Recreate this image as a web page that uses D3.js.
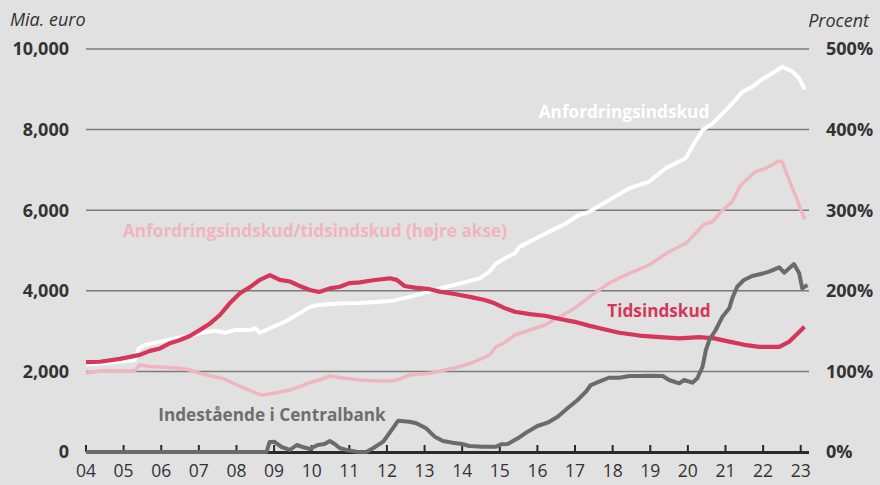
<!DOCTYPE html>
<html>
<head>
<meta charset="utf-8">
<script src="https://cdn.jsdelivr.net/npm/d3@7"></script>
<style>
  html, body { margin: 0; padding: 0; background: #e1e1e1; }
  svg { display: block; }
  text { font-family: "Open Sans", sans-serif; }
</style>
</head>
<body>
<svg id="chart" width="880" height="485"></svg>
<script>
// ---------- DATA ----------
const yearTicks = [2004,2005,2006,2007,2008,2009,2010,2011,2012,2013,2014,2015,2016,2017,2018,2019,2020,2021,2022,2023];
const yearLabels = ["04","05","06","07","08","09","10","11","12","13","14","15","16","17","18","19","20","21","22","23"];
const leftTicks = [0, 2000, 4000, 6000, 8000, 10000];
const leftTickLabels = ["0","2,000","4,000","6,000","8,000","10,000"];
const rightTicks = [0, 100, 200, 300, 400, 500];
const rightTickLabels = ["0%","100%","200%","300%","400%","500%"];

// Tidsindskud (mia. euro)
const tidsYears = [2004.0,2004.37,2004.9,2005.17,2005.43,2005.7,2005.97,2006.23,2006.5,2006.76,2007.03,2007.3,2007.56,2007.82,2008.09,2008.36,2008.62,2008.89,2009.15,2009.42,2009.68,2009.95,2010.2,2010.48,2010.75,2011.0,2011.28,2011.54,2011.8,2012.07,2012.26,2012.47,2012.74,2013.14,2013.4,2013.8,2014.2,2014.6,2014.86,2015.13,2015.4,2015.8,2016.2,2016.6,2016.99,2017.39,2017.8,2018.18,2018.71,2019.25,2019.78,2020.3,2020.7,2021.1,2021.5,2021.9,2022.43,2022.7,2023.1];
const tidsValues = [2230,2240,2310,2360,2410,2510,2570,2700,2780,2880,3030,3190,3400,3690,3940,4090,4270,4390,4270,4230,4120,4020,3970,4060,4100,4190,4210,4250,4280,4310,4270,4120,4080,4040,3980,3920,3850,3770,3690,3570,3480,3420,3380,3300,3230,3130,3040,2960,2890,2850,2820,2850,2820,2740,2660,2610,2610,2740,3110];

// Anfordringsindskud (mia. euro)
const anfYears = [2004.0,2004.5,2005.0,2005.3,2005.4,2005.55,2005.97,2006.36,2006.76,2007.03,2007.42,2007.7,2007.96,2008.36,2008.5,2008.62,2008.89,2009.28,2009.68,2009.95,2010.2,2010.48,2010.88,2011.28,2011.8,2012.15,2012.6,2013.14,2013.66,2014.06,2014.46,2014.72,2014.9,2015.13,2015.4,2015.52,2016.23,2016.76,2017.1,2017.38,2017.9,2018.44,2018.97,2019.41,2019.94,2020.17,2020.39,2020.65,2020.92,2021.18,2021.45,2021.71,2021.94,2022.16,2022.51,2022.78,2022.96,2023.1];
const anfValues = [2180,2200,2250,2290,2570,2650,2740,2820,2880,2950,3010,2960,3030,3030,3070,2960,3070,3230,3440,3600,3650,3670,3690,3700,3730,3750,3850,3980,4120,4210,4310,4470,4680,4800,4930,5090,5430,5670,5880,5960,6250,6540,6710,7040,7290,7660,7990,8150,8400,8650,8940,9060,9230,9350,9560,9440,9270,9000];

// Anfordringsindskud/tidsindskud (procent, højre akse)
const ratioYears = [2004.0,2004.37,2004.63,2004.9,2005.3,2005.43,2005.7,2006.1,2006.5,2006.76,2007.03,2007.42,2007.7,2007.96,2008.22,2008.49,2008.67,2009.0,2009.42,2009.68,2009.95,2010.2,2010.48,2010.88,2011.28,2011.67,2012.07,2012.26,2012.6,2013.14,2013.53,2013.93,2014.33,2014.73,2014.9,2015.13,2015.4,2015.8,2016.2,2016.6,2016.99,2017.39,2017.9,2018.44,2018.97,2019.5,2019.95,2020.2,2020.43,2020.65,2020.92,2021.18,2021.4,2021.8,2022.07,2022.42,2022.51,2022.69,2022.91,2023.1];
const ratioValues = [97.6,100.5,101,100.5,101,108,106,105,104,101.7,97.6,93.4,90.2,84.4,79,73.6,70.7,72.8,76.9,81,86,89.3,94.3,91.4,89.3,88.5,88.1,89.3,95.5,97.6,101.7,105.8,112,120.4,130.6,135.6,145.2,151.4,157.6,167.9,178.3,192.7,209.3,221.7,232,248.5,259,271,282.5,285.7,300,310.6,331,347.8,352,361,360,337.5,312.6,288.7];

// Indestående i Centralbank (mia. euro)
const cbYears = [2004.0,2008.8,2008.88,2009.0,2009.2,2009.42,2009.6,2009.76,2009.95,2010.16,2010.34,2010.48,2010.61,2010.74,2010.92,2011.19,2011.45,2011.63,2011.9,2012.03,2012.3,2012.6,2012.78,2013.04,2013.27,2013.49,2013.75,2014.0,2014.19,2014.55,2014.9,2015.04,2015.21,2015.48,2015.74,2016.0,2016.27,2016.54,2016.8,2017.07,2017.29,2017.42,2017.64,2017.9,2018.18,2018.44,2018.71,2018.97,2019.33,2019.5,2019.77,2019.9,2020.12,2020.25,2020.39,2020.48,2020.57,2020.74,2020.92,2021.1,2021.18,2021.31,2021.49,2021.71,2021.94,2022.16,2022.43,2022.56,2022.82,2022.96,2023.04,2023.18];
const cbValues = [0,0,248,255,124,50,174,124,74,174,198,273,198,99,50,7,0,92,256,422,777,752,712,588,380,273,231,198,149,132,132,190,198,340,504,645,727,876,1084,1290,1496,1662,1744,1843,1843,1885,1885,1893,1885,1786,1704,1786,1720,1828,2116,2531,2779,3027,3357,3565,3813,4101,4267,4367,4416,4474,4582,4449,4664,4433,4061,4143];

// ---------- CHART ----------
const svg = d3.select("#chart");

const x = d3.scaleLinear().domain([2004, 2023.22]).range([86, 809]);
const yL = d3.scaleLinear().domain([0, 10000]).range([452, 49]);
const yR = d3.scaleLinear().domain([0, 500]).range([452, 49]);

const textCol = "#333333";

// gridlines
svg.append("g").selectAll("line").data(leftTicks.filter(d => d > 0)).join("line")
  .attr("x1", 86).attr("x2", 809)
  .attr("y1", d => yL(d)).attr("y2", d => yL(d))
  .attr("stroke", "#7b7b7b").attr("stroke-width", 1.5);

// left tick labels
svg.append("g").selectAll("text").data(leftTicks).join("text")
  .attr("x", 69).attr("y", d => yL(d)).attr("dy", "0.36em")
  .attr("text-anchor", "end").attr("font-size", 18).attr("font-weight", 700)
  .attr("fill", textCol)
  .text((d, i) => leftTickLabels[i]);

// right tick labels
svg.append("g").selectAll("text").data(rightTicks).join("text")
  .attr("x", 826).attr("y", d => yR(d)).attr("dy", "0.36em")
  .attr("text-anchor", "start").attr("font-size", 18).attr("font-weight", 700)
  .attr("fill", textCol)
  .text((d, i) => rightTickLabels[i]);

// axis titles
svg.append("text").attr("x", 10).attr("y", 26).attr("font-size", 18)
  .attr("font-style", "italic").attr("fill", textCol).text("Mia. euro");
svg.append("text").attr("x", 869).attr("y", 27).attr("font-size", 18)
  .attr("text-anchor", "end")
  .attr("font-style", "italic").attr("fill", textCol).text("Procent");

// lines
const mk = (xs, ys, yScale) => xs.map((t, i) => [x(t), yScale(ys[i])]);
const line = d3.line().curve(d3.curveLinear);

svg.append("path").attr("d", line(mk(ratioYears, ratioValues, yR)))
  .attr("fill", "none").attr("stroke", "#f0b5bf").attr("stroke-width", 3.5)
  .attr("stroke-linejoin", "round");
svg.append("path").attr("d", line(mk(anfYears, anfValues, yL)))
  .attr("fill", "none").attr("stroke", "#ffffff").attr("stroke-width", 4)
  .attr("stroke-linejoin", "round");
svg.append("path").attr("d", line(mk(tidsYears, tidsValues, yL)))
  .attr("fill", "none").attr("stroke", "#d5365a").attr("stroke-width", 4.2)
  .attr("stroke-linejoin", "round");

// x axis baseline + ticks
svg.append("line").attr("x1", 86).attr("x2", 809).attr("y1", 452.5).attr("y2", 452.5)
  .attr("stroke", "#2a2a2a").attr("stroke-width", 3);
svg.append("g").selectAll("line").data(yearTicks).join("line")
  .attr("x1", d => x(d)).attr("x2", d => x(d))
  .attr("y1", 452).attr("y2", 445)
  .attr("stroke", "#2a2a2a").attr("stroke-width", 2);

svg.append("path").attr("d", line(mk(cbYears, cbValues, yL)))
  .attr("fill", "none").attr("stroke", "#6b6b6b").attr("stroke-width", 4)
  .attr("stroke-linejoin", "round");

// year labels
svg.append("g").selectAll("text").data(yearTicks).join("text")
  .attr("x", d => x(d)).attr("y", 477)
  .attr("text-anchor", "middle").attr("font-size", 17.5)
  .attr("fill", textCol)
  .text((d, i) => yearLabels[i]);

// series labels
const lab = (txt, cx, cy, col) => svg.append("text")
  .attr("x", cx).attr("y", cy).attr("dy", "0.36em")
  .attr("text-anchor", "middle").attr("font-size", 17.2).attr("font-weight", 700)
  .attr("fill", col).text(txt);
lab("Anfordringsindskud", 624, 112, "#ffffff");
lab("Anfordringsindskud/tidsindskud (højre akse)", 315, 231, "#f0b5bf");
lab("Tidsindskud", 659, 311, "#d5365a");
lab("Indestående i Centralbank", 272, 415, "#6e6e6e");
</script>
</body>
</html>
